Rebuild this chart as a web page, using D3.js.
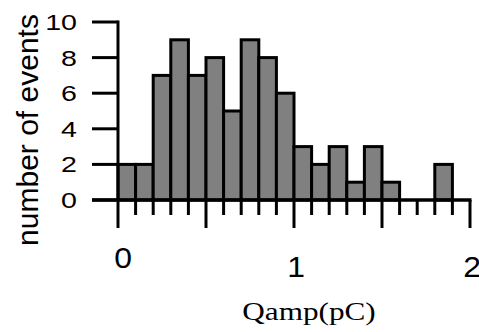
<!DOCTYPE html>
<html>
<head>
<meta charset="utf-8">
<script src="https://cdn.jsdelivr.net/npm/d3@7"></script>
<style>
  html, body { margin: 0; padding: 0; background: #fff; }
  svg { display: block; }
</style>
</head>
<body>
<svg width="479" height="332"></svg>
<script>
// histogram bins of 0.1 pC from 0 to 2
let binStarts = [0, 0.1, 0.2, 0.3, 0.4, 0.5, 0.6, 0.7, 0.8, 0.9, 1.0, 1.1, 1.2, 1.3, 1.4, 1.5, 1.6, 1.7, 1.8, 1.9]
let counts = [2, 2, 7, 9, 7, 8, 5, 9, 8, 6, 3, 2, 3, 1, 3, 1, 0, 0, 2, 0]
let binWidth = 0.1

let yTicks = [0, 2, 4, 6, 8, 10]
let xLabels = [0, 1, 2]
let xMajor = [0, 0.5, 1, 1.5, 2]

let svg = d3.select('svg')

let x = d3.scaleLinear().domain([0, 2]).range([118, 470])
let y = d3.scaleLinear().domain([0, 10]).range([200, 22])

// bars
svg.selectAll('rect.bar')
  .data(binStarts.map((s, i) => ({ start: s, count: counts[i] })).filter(d => d.count > 0))
  .enter()
  .append('rect')
  .attr('class', 'bar')
  .attr('x', d => x(d.start))
  .attr('y', d => y(d.count))
  .attr('width', d => x(d.start + binWidth) - x(d.start))
  .attr('height', d => y(0) - y(d.count))
  .attr('fill', '#808080')
  .attr('stroke', '#000')
  .attr('stroke-width', 3)

// x axis line
svg.append('line')
  .attr('x1', 92).attr('x2', x(2) + 1.5)
  .attr('y1', y(0)).attr('y2', y(0))
  .attr('stroke', '#000').attr('stroke-width', 3.5)

// y axis line
svg.append('line')
  .attr('x1', x(0)).attr('x2', x(0))
  .attr('y1', y(10) - 1.5).attr('y2', y(0))
  .attr('stroke', '#000').attr('stroke-width', 3)

// y ticks
svg.selectAll('line.ytick')
  .data(yTicks)
  .enter()
  .append('line')
  .attr('class', 'ytick')
  .attr('x1', 92).attr('x2', x(0))
  .attr('y1', d => y(d)).attr('y2', d => y(d))
  .attr('stroke', '#000').attr('stroke-width', 3)

// x ticks, every bin edge, longer at the half units
let xTickVals = d3.range(0, 21).map(i => i / 10)
svg.selectAll('line.xtick')
  .data(xTickVals)
  .enter()
  .append('line')
  .attr('class', 'xtick')
  .attr('x1', d => x(d)).attr('x2', d => x(d))
  .attr('y1', y(0))
  .attr('y2', d => xMajor.some(m => Math.abs(m - d) < 1e-9) ? 228 : 215)
  .attr('stroke', '#000').attr('stroke-width', 3)

// y tick labels
svg.selectAll('text.ylab')
  .data(yTicks)
  .enter()
  .append('text')
  .attr('class', 'ylab')
  .attr('transform', d => `translate(77 ${y(d) + 8}) scale(1.3 1)`)
  .attr('text-anchor', 'end')
  .attr('font-family', 'Liberation Sans, Arial, sans-serif')
  .attr('font-size', 22)
  .text(d => d)

// x tick labels
svg.selectAll('text.xlab')
  .data(xLabels)
  .enter()
  .append('text')
  .attr('class', 'xlab')
  .attr('transform', d => `translate(${x(d) + (d === 0 ? 5 : 2)} ${d === 0 ? 268 : 277}) scale(1.1 1)`)
  .attr('text-anchor', 'middle')
  .attr('font-family', 'Liberation Sans, Arial, sans-serif')
  .attr('font-size', 29)
  .text(d => d)

// axis titles
svg.append('text')
  .attr('transform', 'translate(38 130) rotate(-90)')
  .attr('text-anchor', 'middle')
  .attr('font-family', 'Liberation Sans, Arial, sans-serif')
  .attr('font-size', 30)
  .text('number of events')

svg.append('text')
  .attr('transform', 'translate(309 320) scale(1.2 1)')
  .attr('text-anchor', 'middle')
  .attr('font-family', 'Liberation Serif, Times New Roman, serif')
  .attr('font-size', 26)
  .text('Qamp(pC)')
</script>
</body>
</html>
